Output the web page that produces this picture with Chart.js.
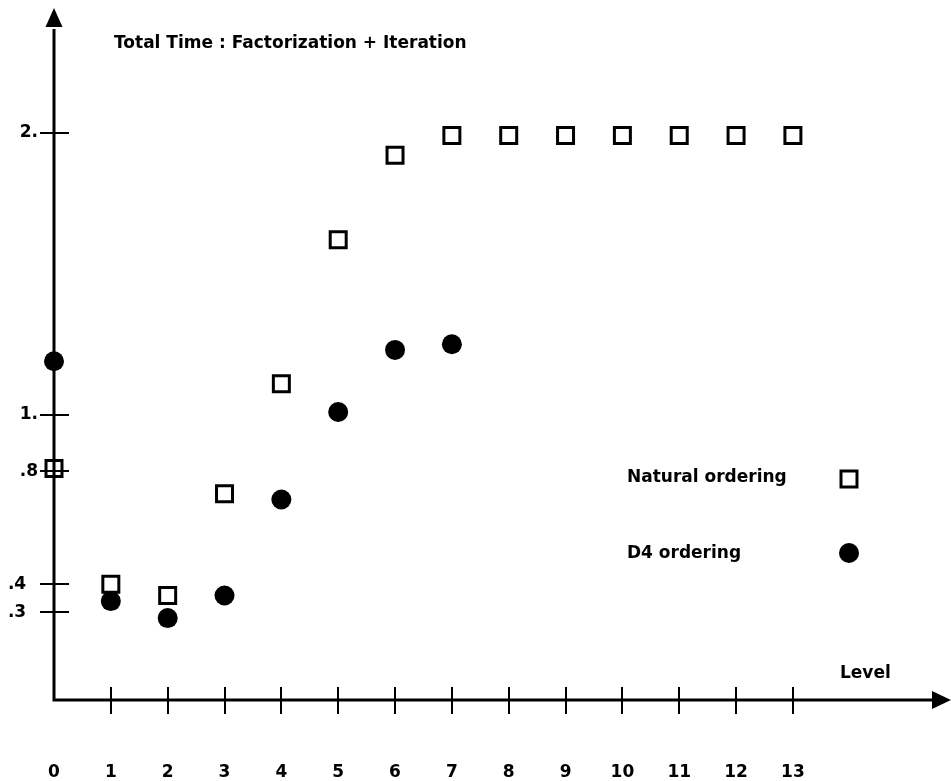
<!DOCTYPE html>
<html><head><meta charset="utf-8">
<script src="https://cdn.jsdelivr.net/npm/chart.js@4.4.0/dist/chart.umd.min.js"></script>
<style>html,body{margin:0;padding:0;background:#fff}#wrap{width:951px;height:781px}</style>
</head><body><div id="wrap"><canvas id="c" width="951" height="781"></canvas></div>
<script>
const levels = [0,1,2,3,4,5,6,7,8,9,10,11,12,13];
const naturalTimes = [0.81,0.40,0.36,0.72,1.11,1.62,1.92,1.99,1.99,1.99,1.99,1.99,1.99,1.99];
const d4Levels = [0,1,2,3,4,5,6,7];
const d4Times = [1.19,0.34,0.28,0.36,0.70,1.01,1.23,1.25];
const yTickValues = [0.3,0.4,0.8,1,2];
const yTickLabels = ['.3  ','.4  ','.8','1.','2.'];
const xTickLabels = levels.map(String);
const titleText = 'Total Time : Factorization + Iteration';
const seriesNames = ['Natural ordering','D4 ordering'];
const xAxisName = 'Level';

const FONT = '"DejaVu Sans", sans-serif';

const decor = {
  id: 'decor',
  afterDatasetsDraw(chart) {
    const ctx = chart.ctx;
    const xs = chart.scales.x, ys = chart.scales.y;
    const x0 = xs.getPixelForValue(0);
    const y0 = ys.getPixelForValue(ys.min);
    const yTop = chart.chartArea.top;
    const xRight = chart.chartArea.right;
    ctx.save();
    ctx.strokeStyle = '#000';
    ctx.fillStyle = '#000';
    ctx.lineCap = 'butt';
    // axes
    ctx.lineWidth = 3;
    ctx.beginPath();
    ctx.moveTo(x0, y0 + 1.5); ctx.lineTo(x0, yTop + 2);
    ctx.moveTo(x0 - 1.5, y0); ctx.lineTo(xRight, y0);
    ctx.stroke();
    // arrow heads
    ctx.beginPath();
    ctx.moveTo(x0, 8); ctx.lineTo(x0 - 8.5, yTop); ctx.lineTo(x0 + 8.5, yTop); ctx.closePath();
    ctx.fill();
    ctx.beginPath();
    ctx.moveTo(951, y0); ctx.lineTo(xRight - 3, y0 - 9); ctx.lineTo(xRight - 3, y0 + 9); ctx.closePath();
    ctx.fill();
    // tick marks crossing axes
    ctx.lineWidth = 2;
    ctx.beginPath();
    yTickValues.forEach(v => {
      const py = Math.round(ys.getPixelForValue(v));
      ctx.moveTo(x0 - 14, py); ctx.lineTo(x0 + 15, py);
    });
    levels.forEach(l => {
      if (l === 0) return;
      const px = Math.round(xs.getPixelForValue(l));
      ctx.moveTo(px, y0 - 13); ctx.lineTo(px, y0 + 14);
    });
    ctx.stroke();
    // texts
    ctx.font = 'bold 17px ' + FONT;
    ctx.textBaseline = 'middle';
    ctx.textAlign = 'left';
    ctx.fillText(titleText, 114, 44);
    ctx.fillText(seriesNames[0], 627, 478);
    ctx.fillText(seriesNames[1], 627, 554);
    ctx.fillText(xAxisName, 840, 674);
    // legend markers
    ctx.lineWidth = 3;
    ctx.fillStyle = '#fff';
    Chart.helpers.drawPoint(ctx, {pointStyle: 'rect', rotation: 0, radius: 11.3, borderWidth: 3}, 849, 479);
    ctx.fillStyle = '#000';
    Chart.helpers.drawPoint(ctx, {pointStyle: 'circle', rotation: 0, radius: 10, borderWidth: 0}, 849, 553);
    ctx.restore();
  }
};

function zeroPad(s) { s.paddingLeft = 0; s.paddingRight = 0; s.paddingTop = 0; s.paddingBottom = 0; }

new Chart(document.getElementById('c'), {
  type: 'scatter',
  data: {
    datasets: [
      {
        label: seriesNames[0],
        data: levels.map((x, i) => ({x, y: naturalTimes[i]})),
        pointStyle: 'rect',
        pointRadius: 11.3,
        pointBorderWidth: 3,
        borderColor: '#000',
        backgroundColor: '#fff',
        clip: false,
        order: 1
      },
      {
        label: seriesNames[1],
        data: d4Levels.map((x, i) => ({x, y: d4Times[i]})),
        pointStyle: 'circle',
        pointRadius: 10,
        pointBorderWidth: 0,
        borderColor: '#000',
        backgroundColor: '#000',
        clip: false,
        order: 0
      }
    ]
  },
  options: {
    responsive: false,
    animation: false,
    devicePixelRatio: 1,
    layout: {padding: {top: 27, right: 16, left: 0, bottom: 0}},
    plugins: {legend: {display: false}, tooltip: {enabled: false}, title: {display: false}},
    events: [],
    scales: {
      x: {
        type: 'linear', min: 0, max: 15.5,
        afterFit: s => { s.height = 81; zeroPad(s); },
        grid: {display: false, drawTicks: false},
        border: {display: false},
        ticks: {
          stepSize: 1, autoSkip: false, maxRotation: 0, padding: 62,
          color: '#000', font: {family: FONT, weight: 'bold', size: 17},
          callback: (v) => (Number.isInteger(v) && v <= 13) ? xTickLabels[v] : ''
        }
      },
      y: {
        type: 'linear', min: -0.0103, max: 2.374,
        afterBuildTicks: s => { s.ticks = yTickValues.map(v => ({value: v})); },
        afterFit: s => { s.width = 54; zeroPad(s); },
        grid: {display: false, drawTicks: false},
        border: {display: false},
        ticks: {
          padding: 16, autoSkip: false,
          color: '#000', font: {family: FONT, weight: 'bold', size: 17},
          callback: (v, i) => yTickLabels[i]
        }
      }
    }
  },
  plugins: [decor]
});
</script>
</body></html>
